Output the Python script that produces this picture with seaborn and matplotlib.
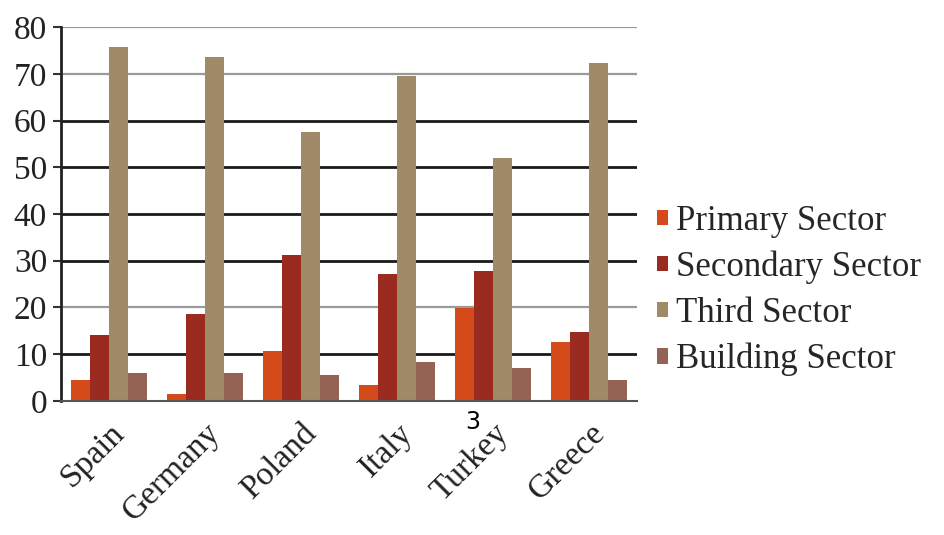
import matplotlib
matplotlib.use("Agg")
import matplotlib.pyplot as plt
import seaborn as sns
import pandas as pd

countries = ["Spain", "Germany", "Poland", "Italy", "Turkey", "Greece"]
sectors = ["Primary Sector", "Secondary Sector", "Third Sector", "Building Sector"]
primary = [4.5, 1.4, 10.7, 3.4, 19.8, 12.7]
secondary = [14.1, 18.7, 31.2, 27.2, 27.8, 14.8]
third = [75.8, 73.5, 57.6, 69.5, 51.9, 72.4]
building = [6.0, 6.0, 5.6, 8.3, 7.0, 4.5]
y_ticks = [0, 10, 20, 30, 40, 50, 60, 70, 80]

colors = ["#D44A18", "#9A2B20", "#A08B69", "#956353"]

rows = []
for sector, vals in zip(sectors, [primary, secondary, third, building]):
    for c, v in zip(countries, vals):
        rows.append({"Country": c, "Sector": sector, "Value": v})
df = pd.DataFrame(rows)

sns.set_theme(style="white")
plt.rcParams["font.family"] = ["Liberation Serif", "DejaVu Serif"]

fig = plt.figure(figsize=(9.44, 5.35), dpi=100)
ax = fig.add_axes([0.0646, 0.2505, 0.6104, 0.699])

sns.barplot(data=df, x="Country", y="Value", hue="Sector", order=countries,
            hue_order=sectors, palette=colors, width=0.79, saturation=1,
            edgecolor="none", errorbar=None, ax=ax)

ax.set_ylim(0, 80)
ax.set_xlim(-0.5, len(countries) - 0.5)
ax.set_yticks(y_ticks)
ax.set_yticklabels([str(t) for t in y_ticks], fontsize=24, color="#222222")
ax.set_xlabel("")
ax.set_ylabel("")

# horizontal gridlines with mixed weights
dark = {10, 30, 40, 50, 60}
for t in y_ticks[1:]:
    ax.axhline(t, color="#1a1a1a" if t in dark else "#9a9a9a",
               lw=2.0 if t in dark else 1.6, zorder=0)
ax.set_axisbelow(True)

# category labels, with tick marks at category boundaries
ax.set_xticks(range(len(countries)))
ax.set_xticklabels(countries, rotation=45, ha="right", rotation_mode="anchor",
                   fontsize=24, color="#222222")
ax.tick_params(axis="x", which="major", length=0, pad=12)
ax.set_xticks([i - 0.5 for i in range(len(countries) + 1)], minor=True)
ax.tick_params(axis="x", which="minor", length=6, width=1.5, color="#333333",
               direction="out")
ax.tick_params(axis="y", length=6, width=1.5, color="#333333", direction="out",
               left=True, pad=4)

for s in ["top", "right"]:
    ax.spines[s].set_visible(False)
ax.spines["left"].set_color("#222222")
ax.spines["left"].set_linewidth(2)
ax.spines["bottom"].set_color("#555555")
ax.spines["bottom"].set_linewidth(1.5)

handles, labels = ax.get_legend_handles_labels()
ax.legend(handles, labels, loc="center left", bbox_to_anchor=(1.035, 0.295),
          frameon=False, fontsize=25, handlelength=0.3, handleheight=0.3,
          handletextpad=0.25, labelspacing=0.37, borderaxespad=0, borderpad=0)

fig.text(473 / 944, 1 - 422 / 535, "3", ha="center", va="center",
         fontsize=17, family="DejaVu Sans", color="black")

fig.savefig("out.png", dpi=100)
